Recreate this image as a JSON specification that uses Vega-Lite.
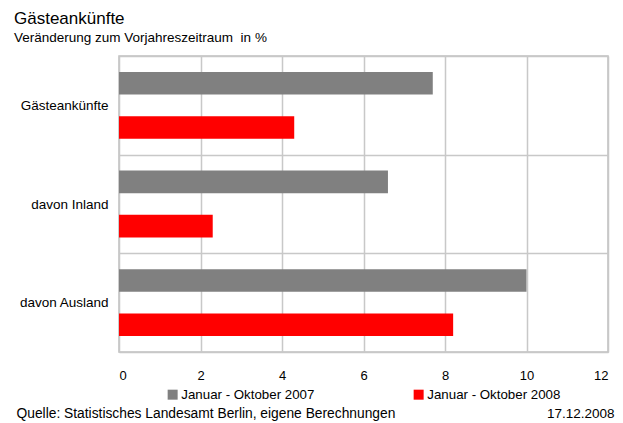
{
  "$schema": "https://vega.github.io/schema/vega-lite/v6.json",
  "autosize": {"type": "none"},
  "width": 489,
  "height": 296,
  "padding": {"left": 119, "top": 56, "right": 15, "bottom": 71},
  "background": "white",
  "title": {
    "text": "Gästeankünfte",
    "subtitle": "Veränderung zum Vorjahreszeitraum \u00a0in %",
    "anchor": "start",
    "frame": "group",
    "dx": -105,
    "offset": 4,
    "font": "Liberation Sans",
    "fontSize": 17,
    "fontWeight": "normal",
    "color": "#000000",
    "subtitleFont": "Liberation Sans",
    "subtitleFontSize": 13.5,
    "subtitleColor": "#000000",
    "subtitlePadding": 3
  },
  "data": {
    "values": [
      {"kategorie": "Gästeankünfte", "zeitraum": "Januar - Oktober 2007", "wert": 7.7},
      {"kategorie": "Gästeankünfte", "zeitraum": "Januar - Oktober 2008", "wert": 4.3},
      {"kategorie": "davon Inland", "zeitraum": "Januar - Oktober 2007", "wert": 6.6},
      {"kategorie": "davon Inland", "zeitraum": "Januar - Oktober 2008", "wert": 2.3},
      {"kategorie": "davon Ausland", "zeitraum": "Januar - Oktober 2007", "wert": 10.0},
      {"kategorie": "davon Ausland", "zeitraum": "Januar - Oktober 2008", "wert": 8.2}
    ]
  },
  "mark": {"type": "bar"},
  "encoding": {
    "y": {
      "field": "kategorie",
      "type": "nominal",
      "sort": ["Gästeankünfte", "davon Inland", "davon Ausland"],
      "scale": {"paddingInner": 0, "paddingOuter": 0},
      "axis": {
        "title": "Quelle: Statistisches Landesamt Berlin, eigene Berechnungen",
        "titleAngle": 0,
        "titleX": -103,
        "titleY": 357,
        "titleAlign": "left",
        "titleBaseline": "middle",
        "titleFont": "Liberation Sans",
        "titleFontSize": 13.8,
        "titleFontWeight": "normal",
        "titleColor": "#000000",
        "domain": false,
        "ticks": false,
        "tickBand": "extent",
        "grid": true,
        "gridColor": "#c8c8c8",
        "gridWidth": 1.5,
        "labelPadding": 11,
        "labelFont": "Liberation Sans",
        "labelFontSize": 13.5,
        "labelColor": "#000000"
      }
    },
    "yOffset": {
      "field": "zeitraum",
      "type": "nominal",
      "sort": ["Januar - Oktober 2007", "Januar - Oktober 2008"],
      "scale": {"paddingInner": 0.49, "paddingOuter": 0.36}
    },
    "x": {
      "field": "wert",
      "type": "quantitative",
      "scale": {"domain": [0, 12], "nice": false},
      "axis": {
        "title": "17.12.2008",
        "titleX": 495,
        "titleY": 61,
        "titleAlign": "right",
        "titleBaseline": "middle",
        "titleFont": "Liberation Sans",
        "titleFontSize": 13.5,
        "titleFontWeight": "normal",
        "titleColor": "#000000",
        "values": [0, 2, 4, 6, 8, 10, 12],
        "domain": false,
        "ticks": false,
        "grid": true,
        "gridColor": "#c8c8c8",
        "gridWidth": 1.5,
        "labelPadding": 17,
        "labelFont": "Liberation Sans",
        "labelFontSize": 13,
        "labelColor": "#000000"
      }
    },
    "color": {
      "field": "zeitraum",
      "type": "nominal",
      "sort": ["Januar - Oktober 2007", "Januar - Oktober 2008"],
      "scale": {"range": ["#808080", "#ff0000"]},
      "legend": {
        "title": null,
        "orient": "none",
        "legendX": 47,
        "legendY": 332,
        "direction": "horizontal",
        "columns": 2,
        "columnPadding": 97,
        "symbolType": "square",
        "symbolSize": 100,
        "symbolStrokeWidth": 0,
        "labelOffset": 2,
        "labelFont": "Liberation Sans",
        "labelFontSize": 13.3,
        "labelColor": "#000000",
        "labelLimit": 250
      }
    }
  },
  "config": {
    "view": {"stroke": "#c0c0c0", "strokeWidth": 1.5},
    "axis": {"zindex": 0}
  }
}
